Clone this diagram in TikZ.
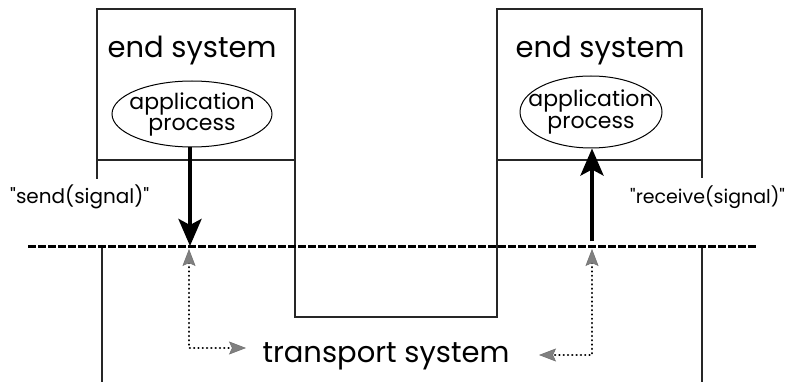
\documentclass[tikz,border=0pt]{standalone}
\usepackage{fontspec}
\newfontfamily\gothic{Poppins}
\usetikzlibrary{arrows.meta,shapes.geometric}
\begin{document}
\begin{tikzpicture}[x=1pt,y=-1pt,
  frame/.style={line width=1.1pt, black!85},
  bigtext/.style={font=\gothic\fontsize{29}{31}\selectfont, inner sep=0pt},
  proc/.style={ellipse, draw, line width=1pt, minimum width=160pt, minimum height=66pt,
    inner xsep=-30pt, inner ysep=-12pt, align=center, font=\gothic\fontsize{22}{21}\selectfont},
  calltext/.style={font=\gothic\fontsize{20}{22}\selectfont, inner sep=0pt, anchor=base west},
  bus/.style={line width=3pt, dash pattern=on 8pt off 2pt},
  callarrow/.style={line width=4pt, -{Stealth[length=27pt, width=23pt, inset=6pt]}},
  flow/.style={line width=2.4pt, black, line cap=round, dash pattern=on 0.1pt off 4.2pt,
    >={Stealth[length=17pt, width=13pt, inset=3pt, fill=black!50, color=black!55, line width=0.6pt]}, <->}
]
\useasboundingbox (0,0) rectangle (792,382);

% end systems and the transport system outline
\draw[frame] (97,179) -- (97,9) -- (295,9) -- (295,317) -- (497,317) -- (497,9) -- (702,9) -- (702,178);
\draw[frame] (97,160) -- (295,160);
\draw[frame] (497,160) -- (702,160);
\draw[frame] (102,246) -- (102,382);
\draw[frame] (702,246) -- (702,382);

% transport boundary
\coordinate (busL) at (28,246);
\coordinate (busR) at (757,246);
\draw[bus] (busL) -- (busR);

% labels
\node[bigtext, anchor=base] (es1) at (192,58) {end system};
\node[bigtext, anchor=base] (es2) at (600,58) {end system};
\node[proc] (app1) at (192,114) {application\\process};
\node[proc, minimum width=142pt, minimum height=72pt] (app2) at (591,112) {application\\[1pt]process};

\node[calltext] (send) at (10,204) {"send(signal)"};
\node[calltext, font=\gothic\fontsize{19}{21}\selectfont] (recv) at (630,204) {"receive(signal)"};

\node[bigtext, anchor=base] (ts) at (386,362) {transport system};

% service calls across the boundary
\coordinate (sendpt) at (190,246);
\coordinate (recvpt) at (592,241);
\draw[callarrow] (app1.south -| sendpt) -- (sendpt);
\draw[callarrow] (recvpt) -- (app2.south -| recvpt);

% dotted links to the transport system
\coordinate (lup) at (189,249);
\coordinate (ltip) at (246,348);
\coordinate (rup) at (592,249);
\coordinate (rtip) at (539,355);
\draw[flow] (lup) |- (ltip);
\draw[flow] (rup) |- (rtip);
\end{tikzpicture}
\end{document}
